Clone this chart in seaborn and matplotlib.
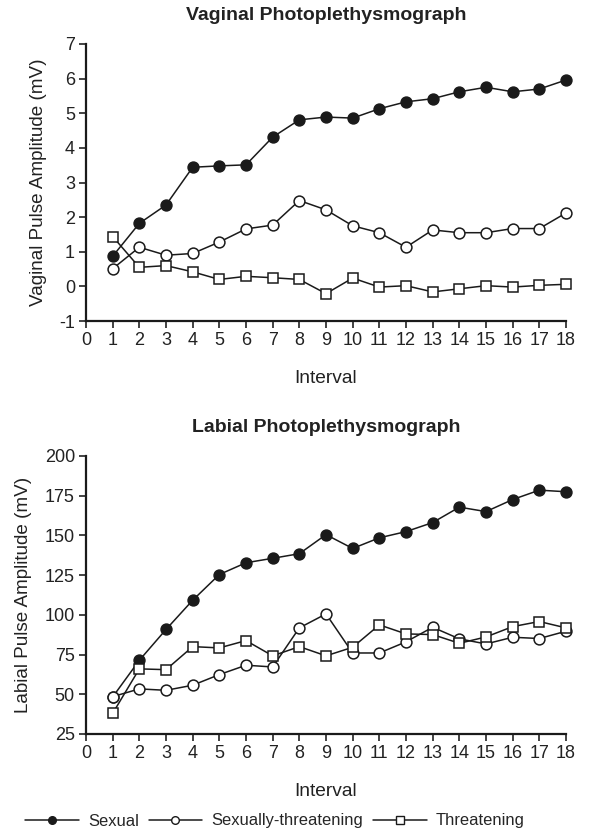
import numpy as np
import pandas as pd
import seaborn as sns
from matplotlib import pyplot as plt

# data
intervals = list(range(1, 19))

vag_sexual = [0.87, 1.82, 2.35, 3.44, 3.48, 3.51, 4.31, 4.81, 4.89, 4.86, 5.13, 5.33, 5.42, 5.62, 5.75, 5.62, 5.70, 5.96]
vag_sex_threat = [0.51, 1.13, 0.90, 0.95, 1.28, 1.66, 1.77, 2.48, 2.21, 1.75, 1.55, 1.13, 1.63, 1.55, 1.55, 1.67, 1.67, 2.12]
vag_threat = [1.44, 0.55, 0.60, 0.42, 0.20, 0.29, 0.25, 0.20, -0.21, 0.24, -0.02, 0.02, -0.16, -0.07, 0.02, -0.02, 0.03, 0.06]

lab_sexual = [48.3, 71.4, 90.8, 109.2, 125.4, 132.8, 135.6, 138.5, 150.5, 141.8, 148.5, 152.4, 158.1, 167.8, 165.0, 172.6, 178.5, 177.5]
lab_sex_threat = [48.5, 53.4, 52.5, 55.7, 62.4, 68.3, 67.2, 91.8, 100.6, 76.0, 76.0, 83.0, 92.2, 84.9, 81.7, 85.9, 85.1, 89.7]
lab_threat = [38.0, 66.0, 65.5, 80.0, 79.2, 83.8, 74.2, 80.0, 74.2, 79.6, 93.7, 88.0, 87.6, 82.1, 86.1, 92.6, 95.8, 91.8]

series_names = ["Sexual", "Sexually-threatening", "Threatening"]
marker_styles = {"Sexual": ("o", "#1a1a1a"),
                 "Sexually-threatening": ("o", "white"),
                 "Threatening": ("s", "white")}

sns.set_style("ticks")
plt.rcParams['font.family'] = ['Liberation Sans', 'DejaVu Sans']
plt.rcParams['axes.unicode_minus'] = False

fig = plt.figure(figsize=(6.07, 8.35), dpi=100)
W, H = 607, 835
ax1 = fig.add_axes([86 / W, 1 - 321 / H, 480 / W, 277 / H])
ax2 = fig.add_axes([86 / W, 1 - 734 / H, 480 / W, 278 / H])


def draw(ax, data, title, ylabel, ylim, yticks):
    for name, vals in zip(series_names, data):
        m, fc = marker_styles[name]
        sns.lineplot(x=intervals, y=vals, ax=ax, color="#1a1a1a", marker=m,
                     markerfacecolor=fc, markeredgecolor="#1a1a1a", markeredgewidth=1.1,
                     markersize=7.8 if m == "o" else 7.3, linewidth=1.1, label=name,
                     clip_on=False, legend=False)
    ax.set_xlim(0, 18)
    ax.set_ylim(*ylim)
    ax.set_xticks(range(0, 19))
    ax.set_yticks(yticks)
    ax.tick_params(labelsize=13, length=5, width=1.2, colors="#222222", pad=3)
    for s in ["left", "bottom"]:
        ax.spines[s].set_linewidth(1.6)
        ax.spines[s].set_color("#1a1a1a")
    sns.despine(ax=ax)
    ax.set_title(title, fontsize=14, fontweight="bold", color="#222222", pad=17)
    ax.set_xlabel("Interval", fontsize=13.8, color="#222222", labelpad=15)
    ax.set_ylabel(ylabel, fontsize=13.6, color="#222222", labelpad=9)


draw(ax1, [vag_sexual, vag_sex_threat, vag_threat], "Vaginal Photoplethysmograph",
     "Vaginal Pulse Amplitude (mV)", (-1, 7), range(-1, 8))
draw(ax2, [lab_sexual, lab_sex_threat, lab_threat], "Labial Photoplethysmograph",
     "Labial Pulse Amplitude (mV)", (25, 200), range(25, 201, 25))

handles = [plt.Line2D([], [], color="#1a1a1a", linewidth=1.1,
                      marker=marker_styles[n][0], markerfacecolor=marker_styles[n][1],
                      markeredgecolor="#1a1a1a", markersize=5.5) for n in series_names]
fig.legend(handles, series_names, loc="center left", bbox_to_anchor=(25 / W, 1 - 821 / H),
           ncol=3, frameon=False, fontsize=11.9, handlelength=3.25, columnspacing=0.6,
           handletextpad=0.55, borderpad=0, borderaxespad=0)

plt.savefig("out.png", dpi=100)
